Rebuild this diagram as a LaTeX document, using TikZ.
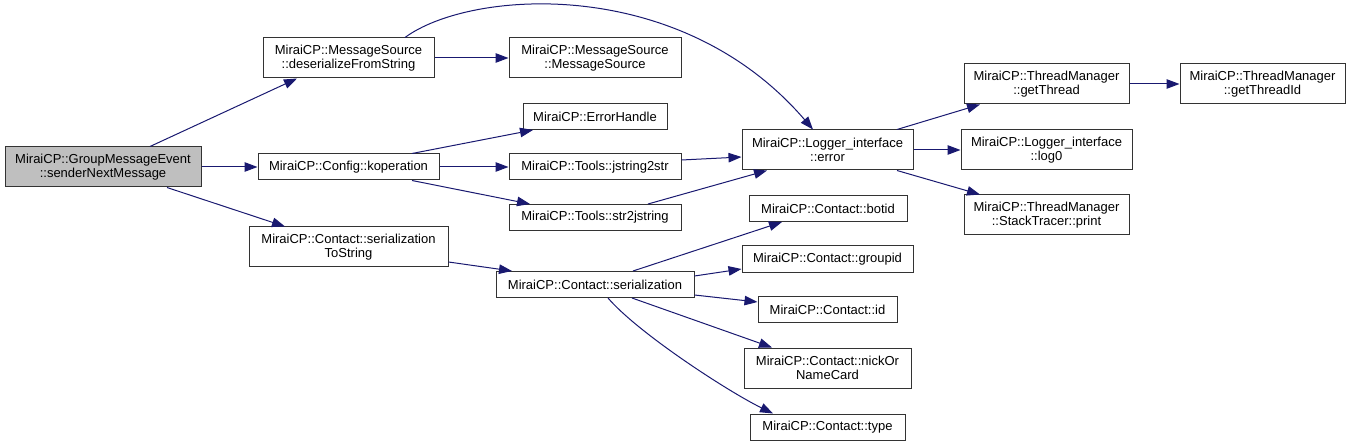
\documentclass[tikz,border=0pt]{standalone}
\usepackage{fontspec}
\setmainfont{Liberation Sans}
\usetikzlibrary{arrows.meta}
\definecolor{edgeblue}{RGB}{25,25,112}
\begin{document}
\begin{tikzpicture}[
  x=1pt, y=-1pt,
  fn/.style={draw=black!80, line width=1pt, fill=white, inner sep=0pt, align=center, minimum height=26pt, font=\fontsize{13}{14}\selectfont},
  tall/.style={minimum height=40pt},
  focus/.style={fill=black!25},
  call/.style={draw=edgeblue, line width=1pt, -{Triangle[length=13pt,width=9.5pt]}}
]
\useasboundingbox (0,0) rectangle (1351,446);
\node[fn, tall, focus, minimum width=196pt] (sender) at (103,167) {MiraiCP::GroupMessageEvent\\::senderNextMessage};
\node[fn, tall, minimum width=171pt] (deser) at (348.5,58) {MiraiCP::MessageSource\\::deserializeFromString};
\node[fn, tall, minimum width=172pt] (msgsrc) at (595,58) {MiraiCP::MessageSource\\::MessageSource};
\node[fn, minimum width=181pt] (koper) at (348.5,167) {MiraiCP::Config::koperation};
\node[fn, minimum width=144pt] (errhandle) at (595,116.5) {MiraiCP::ErrorHandle};
\node[fn, minimum width=172pt] (jstr) at (595,167) {MiraiCP::Tools::jstring2str};
\node[fn, minimum width=172pt] (strj) at (595,217.5) {MiraiCP::Tools::str2jstring};
\node[fn, tall, minimum width=199pt] (sertostr) at (348.5,247) {MiraiCP::Contact::serialization\\ToString};
\node[fn, minimum width=198pt] (serial) at (595,284.5) {MiraiCP::Contact::serialization};
\node[fn, tall, minimum width=171pt] (logerror) at (827.5,150) {MiraiCP::Logger\_interface\\::error};
\node[fn, tall, minimum width=165pt] (getthread) at (1046.5,84) {MiraiCP::ThreadManager\\::getThread};
\node[fn, tall, minimum width=165pt] (getthreadid) at (1262.5,84) {MiraiCP::ThreadManager\\::getThreadId};
\node[fn, tall, minimum width=171pt] (logzero) at (1046.5,150) {MiraiCP::Logger\_interface\\::log0};
\node[fn, tall, minimum width=165pt] (stackprint) at (1046.5,215) {MiraiCP::ThreadManager\\::StackTracer::print};
\node[fn, minimum width=158pt] (botid) at (828,208.5) {MiraiCP::Contact::botid};
\node[fn, minimum width=171pt] (groupid) at (827.5,259) {MiraiCP::Contact::groupid};
\node[fn, minimum width=139pt] (contactid) at (827.5,309.5) {MiraiCP::Contact::id};
\node[fn, tall, minimum width=167pt] (nickcard) at (827.5,368) {MiraiCP::Contact::nickOr\\NameCard};
\node[fn, minimum width=155pt] (ctype) at (827.5,427) {MiraiCP::Contact::type};

% calls from senderNextMessage
\draw[call] ([xshift=47pt]sender.north) -- ([xshift=-51.5pt]deser.south);
\draw[call] (sender.east) -- (koper.west);
\draw[call] ([xshift=64pt]sender.south) -- ([xshift=-63.5pt]sertostr.north);

\draw[call] (deser.east) -- (msgsrc.west);
\draw[call] ([xshift=56.5pt]deser.north) .. controls +(65,-48) and +(-133,-155) .. ([xshift=-14.5pt]logerror.north);

\draw[call] ([xshift=63.5pt]koper.north) -- ([xshift=-62pt]errhandle.south);
\draw[call] (koper.east) -- (jstr.west);
\draw[call] ([xshift=63.5pt]koper.south) -- ([xshift=-65pt]strj.north);
\draw[call] ([yshift=7pt]jstr.east) -- ([yshift=-7pt]logerror.west);
\draw[call] ([xshift=53pt]strj.north) -- ([xshift=-60.5pt]logerror.south);

\draw[call] ([yshift=-15pt]sertostr.east) -- ([xshift=-83pt]serial.north);
\draw[call] ([xshift=38pt]serial.north) -- ([xshift=-46pt]botid.south);
\draw[call] ([yshift=8.5pt]serial.east) -- ([yshift=-10pt]groupid.west);
\draw[call] ([yshift=-10.5pt]serial.east) -- ([yshift=7.5pt]contactid.west);
\draw[call] ([xshift=37pt]serial.south) -- ([xshift=-55.5pt]nickcard.north);
\draw[call] ([xshift=13pt]serial.south) .. controls +(30,35) and +(-45,-22) .. ([xshift=-54.5pt]ctype.north);

\draw[call] ([xshift=69.5pt]logerror.north) -- ([xshift=-66.5pt]getthread.south);
\draw[call] (logerror.east) -- (logzero.west);
\draw[call] ([xshift=69.5pt]logerror.south) -- ([xshift=-66.5pt]stackprint.north);
\draw[call] (getthread.east) -- (getthreadid.west);
\end{tikzpicture}
\end{document}
